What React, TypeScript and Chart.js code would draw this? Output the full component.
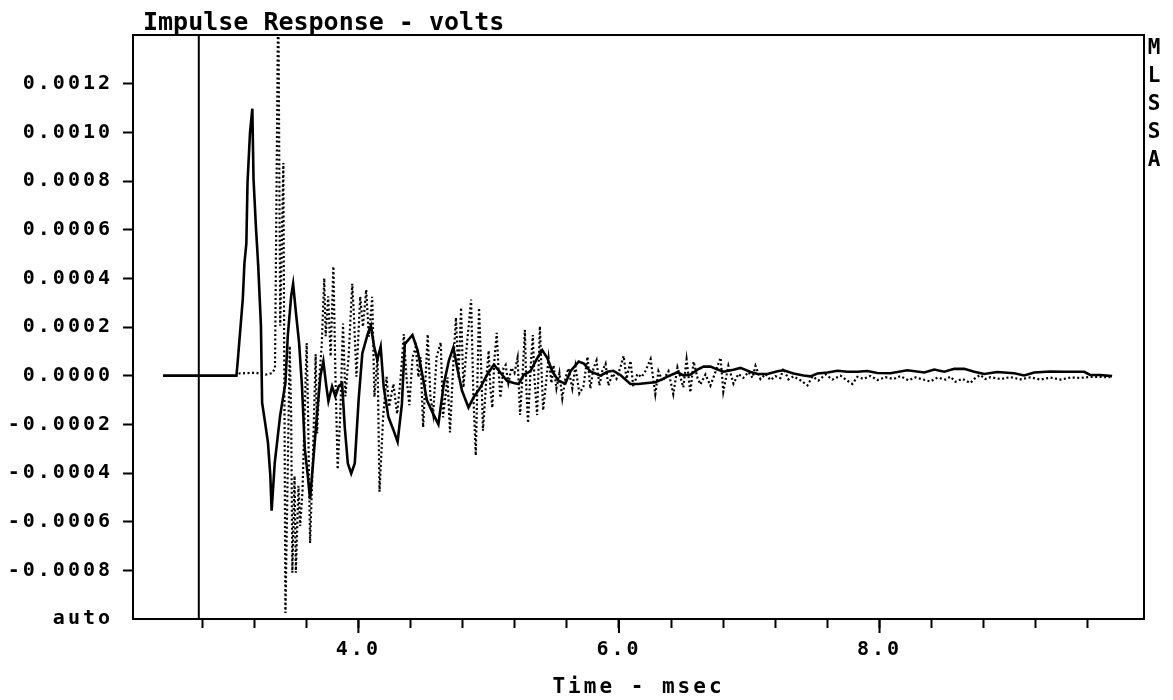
import React, { useEffect, useRef } from "react";
import { Chart, registerables } from "chart.js";

Chart.register(...registerables);

// ---------- text ----------
const chartTitle = "Impulse Response - volts";
const xAxisTitle = "Time - msec";
const sideLabel = "MLSSA";

// ---------- axes ----------
const xMin = 2.27;
const xMax = 10.03;
const yMin = -0.001;
const yMax = 0.0014;
const xTickValues = [2.8, 3.2, 3.6, 4.0, 4.4, 4.8, 5.2, 5.6, 6.0, 6.4, 6.8, 7.2, 7.6, 8.0, 8.4, 8.8, 9.2, 9.6];
const xLabeledTicks = [4.0, 6.0, 8.0];
const yTickValues = [-0.001, -0.0008, -0.0006, -0.0004, -0.0002, 0, 0.0002, 0.0004, 0.0006, 0.0008, 0.001, 0.0012];
const yAutoTick = -0.001; // shown as "auto"
const markerTime = 2.775; // vertical cursor line (msec)

// ---------- solid trace (msec / volts) ----------
const solidTime = [
  2.5, 3.064, 3.073, 3.113, 3.125, 3.14, 3.149, 3.168, 3.186, 3.195,
  3.213, 3.231, 3.252, 3.261, 3.284, 3.306, 3.324, 3.334, 3.358, 3.399,
  3.44, 3.458, 3.484, 3.499, 3.521, 3.545, 3.567, 3.589, 3.612, 3.629,
  3.652, 3.681, 3.709, 3.731, 3.754, 3.77, 3.798, 3.823, 3.849, 3.875,
  3.895, 3.919, 3.945, 3.972, 4.002, 4.03, 4.07, 4.096, 4.12, 4.145,
  4.171, 4.194, 4.23, 4.268, 4.301, 4.334, 4.356, 4.415, 4.454, 4.49,
  4.526, 4.576, 4.614, 4.655, 4.695, 4.729, 4.758, 4.795, 4.845, 4.883,
  4.936, 4.988, 5.04, 5.091, 5.141, 5.192, 5.23, 5.269, 5.321, 5.373,
  5.411, 5.45, 5.488, 5.538, 5.589, 5.628, 5.691, 5.73, 5.781, 5.858,
  5.911, 5.957, 6.011, 6.088, 6.149, 6.218, 6.28, 6.334, 6.38, 6.449,
  6.495, 6.549, 6.603, 6.649, 6.703, 6.757, 6.803, 6.879, 6.933, 7.01,
  7.064, 7.14, 7.217, 7.263, 7.34, 7.417, 7.47, 7.524, 7.601, 7.678,
  7.754, 7.831, 7.906, 7.983, 8.083, 8.213, 8.344, 8.42, 8.497, 8.574,
  8.65, 8.727, 8.804, 8.903, 9.034, 9.11, 9.187, 9.31, 9.417, 9.571,
  9.617, 9.693, 9.785,
];
const solidVolts = [
  0, 0, 0.000054, 0.000317, 0.00046, 0.000543, 0.000793, 0.000998, 0.001097, 0.000809,
  0.000616, 0.000452, 0.000205, -0.000111, -0.000193, -0.000276, -0.000411, -0.000555, -0.000358, -0.000165,
  -0.00003, 0.000163, 0.000327, 0.000377, 0.000257, 0.000134, -0.000043, -0.000302, -0.000413, -0.000507,
  -0.000359, -0.000167, 0, 0.000059, -0.000044, -0.000105, -0.000044, -0.000085, -0.000044, -0.000032,
  -0.000209, -0.000361, -0.000402, -0.000361, -0.000098, 0.000091, 0.000169, 0.000205, 0.000122, 0.000065,
  0.000119, -0.000046, -0.000169, -0.000222, -0.000272, -0.000116, 0.00013, 0.000167, 0.000105, 0.000006,
  -0.000101, -0.000159, -0.0002, -0.000036, 0.000063, 0.000116, 0.000034, -0.000061, -0.000131, -0.00009,
  -0.000049, 0.000004, 0.000045, 0.000012, -0.000021, -0.00003, -0.000034, 0.000003, 0.000019, 0.000072,
  0.000105, 0.000072, 0.000018, -0.000023, -0.000032, 0.000018, 0.000058, 0.00005, 0.000017, 0,
  0.000016, 0.00002, 0.000003, -0.000034, -0.000034, -0.00003, -0.000027, -0.000014, -0.000002, 0.000014,
  0.000001, 0.000005, 0.000025, 0.000037, 0.000037, 0.000025, 0.000016, 0.000024, 0.000032, 0.000015,
  0.000007, 0.000007, 0.000018, 0.000022, 0.000009, 0.000001, -0.000003, 0.000009, 0.000013, 0.00002,
  0.000016, 0.000016, 0.000019, 0.000011, 0.00001, 0.000022, 0.000013, 0.000025, 0.000016, 0.000028,
  0.000028, 0.000016, 0.000007, 0.000015, 0.00001, 0.000001, 0.000013, 0.000017, 0.000016, 0.000016,
  0.000003, 0.000003, -0.000002,
];

// ---------- dotted trace (msec / volts) ----------
const dottedTime = [
  3.08, 3.21, 3.287, 3.341, 3.36, 3.385, 3.4, 3.424, 3.44, 3.473,
  3.484, 3.493, 3.51, 3.52, 3.54, 3.553, 3.571, 3.603, 3.614, 3.629,
  3.649, 3.672, 3.683, 3.701, 3.718, 3.738, 3.749, 3.768, 3.787, 3.808,
  3.824, 3.841, 3.86, 3.882, 3.9, 3.925, 3.953, 3.966, 3.985, 4.014,
  4.035, 4.06, 4.08, 4.106, 4.123, 4.147, 4.162, 4.19, 4.216, 4.236,
  4.269, 4.297, 4.323, 4.349, 4.369, 4.391, 4.416, 4.44, 4.461, 4.477,
  4.497, 4.532, 4.553, 4.574, 4.6, 4.632, 4.65, 4.684, 4.703, 4.731,
  4.749, 4.768, 4.788, 4.806, 4.831, 4.865, 4.883, 4.901, 4.926, 4.945,
  4.956, 4.983, 5.0, 5.013, 5.028, 5.045, 5.062, 5.075, 5.09, 5.114,
  5.13, 5.151, 5.175, 5.198, 5.222, 5.241, 5.259, 5.278, 5.289, 5.302,
  5.322, 5.339, 5.351, 5.372, 5.393, 5.405, 5.418, 5.444, 5.46, 5.482,
  5.498, 5.52, 5.543, 5.565, 5.589, 5.612, 5.642, 5.666, 5.696, 5.727,
  5.759, 5.78, 5.804, 5.828, 5.85, 5.873, 5.897, 5.919, 5.95, 5.981,
  6.012, 6.036, 6.058, 6.089, 6.11, 6.142, 6.173, 6.203, 6.243, 6.279,
  6.303, 6.334, 6.38, 6.417, 6.449, 6.472, 6.494, 6.519, 6.548, 6.573,
  6.602, 6.625, 6.664, 6.702, 6.741, 6.78, 6.801, 6.84, 6.879, 6.917,
  6.955, 6.994, 7.025, 7.048, 7.086, 7.124, 7.163, 7.201, 7.239, 7.262,
  7.301, 7.339, 7.393, 7.447, 7.485, 7.531, 7.585, 7.639, 7.7, 7.754,
  7.792, 7.83, 7.876, 7.93, 7.984, 8.045, 8.107, 8.16, 8.222, 8.275,
  8.329, 8.391, 8.444, 8.506, 8.544, 8.582, 8.636, 8.697, 8.736, 8.774,
  8.812, 8.851, 8.928, 9.005, 9.081, 9.158, 9.235, 9.312, 9.388, 9.465,
  9.542, 9.618, 9.772,
];
const dottedVolts = [
  0.000009, 0.000012, 0.000004, 0.000011, 0.000032, 0.0016, 0.000205, 0.000874, -0.000975, 0.000122,
  -0.000166, -0.00081, -0.000412, -0.00081, -0.000453, -0.000618, -0.000474, 0.000134, -0.000166, -0.000688,
  -0.000372, 0.000088, -0.000237, -0.000002, 0.000121, 0.0004, 0.000162, 0.000326, 0.000079, 0.000449,
  -0.000003, -0.000385, -0.000168, 0.000214, -0.000085, 0.000079, 0.000378, 0.000243, -0.000004, 0.000325,
  0.000201, 0.000353, 0.00016, 0.000324, -0.000087, 0.000078, -0.000477, -0.000169, -0.000005, -0.000128,
  -0.000034, -0.000157, -0.000018, 0.000171, -0.000005, -0.000121, 0.000076, 0.000117, -0.000006, 0.000076,
  -0.000212, 0.00017, -0.000088, -0.000158, 0.000076, 0.000137, -0.000171, -0.000007, -0.000233, 0.000075,
  0.000239, -0.000007, 0.00028, -0.000049, 0.000116, 0.000313, -0.00009, -0.000328, 0.000279, -0.000008,
  -0.000226, -0.000008, 0.000103, -0.00005, -0.000132, 0.000074, 0.000176, 0.000032, -0.000091, 0.000032,
  0.000044, -0.00003, 0.000032, 0.000011, 0.000073, -0.000161, -0.000009, 0.000188, -0.000051, -0.000195,
  0.000031, 0.000167, -0.00001, -0.000162, 0.000203, 0.000031, -0.000142, -0.00001, 0.000072, -0.000031,
  0.000043, -0.000052, 0.00001, -0.000093, -0.000011, 0.00003, -0.000052, 0.000038, -0.000073, -0.000045,
  0.000078, -0.000053, 0.000029, 0.000062, -0.000041, 0.000021, 0.000049, -0.000041, 0.000008, -0.000013,
  0.000036, 0.000081, -0.000013, 0.000061, -0.000046, 0.000007, -0.000006, 0.000019, 0.000068, -0.000076,
  0.000018, -0.000023, 0.000018, -0.000076, 0.000034, -0.000007, -0.000048, 0.000067, -0.000069, 0.000058,
  -0.000007, -0.000036, 0.000005, -0.000041, 0.000016, 0.000074, -0.000066, 0.000041, -0.000033, 0.000007,
  -0.000009, 0.000015, -0.000009, 0.00004, -0.000014, 0.000007, -0.000018, -0.000002, -0.00001, 0.00003,
  -0.000015, -0.000003, -0.000019, -0.00004, -0.000003, -0.00002, 0.000005, -0.000016, 0, -0.000021,
  -0.000034, -0.000005, -0.000013, -0.000001, -0.000018, -0.000006, -0.000014, -0.000002, -0.000019, -0.000007,
  -0.000015, -0.000024, -0.000008, -0.000016, -0.000004, -0.000025, -0.000013, -0.00003, -0.000009, 0.000003,
  -0.000014, -0.000006, -0.000014, -0.000006, -0.000015, -0.000007, -0.000016, -0.000008, -0.000016, -0.000008,
  -0.000009, -0.000005, -0.000006,
];

const FONT = "'DejaVu Sans Mono', 'Liberation Mono', monospace";
const INK = "#000000";

const decorPlugin = {
  id: "mlssaDecor",
  beforeDraw(chart: any) {
    // wide, blocky tick labels like the original bitmap font
    (chart.ctx as any).letterSpacing = "3px";
  },
  afterDraw(chart: any) {
    const { ctx, chartArea: a, scales } = chart;
    ctx.save();
    (ctx as any).letterSpacing = "0px";
    // plot frame
    ctx.strokeStyle = INK;
    ctx.lineWidth = 2;
    ctx.strokeRect(a.left, a.top, a.right - a.left, a.bottom - a.top);
    // longer major tick marks on the time axis
    const xs = scales.x;
    ctx.beginPath();
    xLabeledTicks.forEach((v) => {
      const px = xs.getPixelForValue(v);
      ctx.moveTo(px, a.bottom);
      ctx.lineTo(px, a.bottom + 14);
    });
    ctx.stroke();
    // title
    ctx.fillStyle = INK;
    ctx.font = `bold 25px ${FONT}`;
    ctx.textAlign = "left";
    ctx.textBaseline = "alphabetic";
    ctx.fillText(chartTitle, a.left + 10, a.top - 5);
    // vertical side label
    ctx.font = `bold 21px ${FONT}`;
    ctx.textAlign = "center";
    ctx.textBaseline = "middle";
    sideLabel.split("").forEach((ch, i) => {
      ctx.fillText(ch, a.right + 10, a.top + 14 + i * 28);
    });
    ctx.restore();
    (ctx as any).letterSpacing = "0px";
  },
};

export default function App() {
  const canvasRef = useRef<HTMLCanvasElement | null>(null);

  useEffect(() => {
    const canvas = canvasRef.current;
    if (!canvas) return;
    const solidData = solidTime.map((t, i) => ({ x: t, y: solidVolts[i] }));
    const dottedData = dottedTime.map((t, i) => ({ x: t, y: dottedVolts[i] }));
    const markerData = [
      { x: markerTime, y: yMin },
      { x: markerTime, y: yMax },
    ];

    const chart = new Chart(canvas, {
      type: "line",
      data: {
        datasets: [
          {
            label: "solid",
            data: solidData,
            borderColor: INK,
            borderWidth: 2.6,
            pointRadius: 0,
            tension: 0,
          },
          {
            label: "dotted",
            data: dottedData,
            borderColor: INK,
            borderWidth: 2.2,
            borderDash: [2, 2.5],
            pointRadius: 0,
            tension: 0,
          },
          {
            label: "cursor",
            data: markerData,
            borderColor: INK,
            borderWidth: 2,
            pointRadius: 0,
          },
        ],
      },
      options: {
        animation: false,
        responsive: false,
        events: [],
        layout: { padding: { top: 35, right: 29, bottom: 0, left: 0 } },
        plugins: {
          legend: { display: false },
          tooltip: { enabled: false },
          title: { display: false },
        },
        scales: {
          x: {
            type: "linear",
            min: xMin,
            max: xMax,
            afterBuildTicks: (s: any) => {
              s.ticks = xTickValues.map((v) => ({ value: v }));
            },
            afterFit: (s: any) => {
              s.height = 81;
            },
            border: { display: true, color: INK, width: 2 },
            grid: {
              drawOnChartArea: false,
              drawTicks: true,
              tickLength: 9,
              tickWidth: 2,
              tickColor: INK,
            },
            ticks: {
              autoSkip: false,
              maxRotation: 0,
              padding: 10,
              color: INK,
              font: { family: FONT, size: 20, weight: "bold" },
              callback: (v: any) => (xLabeledTicks.includes(Number(v)) ? Number(v).toFixed(1) : ""),
            },
            title: {
              display: true,
              text: xAxisTitle,
              color: INK,
              font: { family: FONT, size: 21, weight: "bold", lineHeight: 1 },
              padding: { top: 0, bottom: 2 },
            },
          },
          y: {
            type: "linear",
            min: yMin,
            max: yMax,
            afterBuildTicks: (s: any) => {
              s.ticks = yTickValues.map((v) => ({ value: v }));
            },
            afterFit: (s: any) => {
              s.width = 133;
            },
            border: { display: true, color: INK, width: 2 },
            grid: {
              drawOnChartArea: false,
              drawTicks: true,
              tickLength: 10,
              tickWidth: 2,
              tickColor: (c: any) => (c.tick && c.tick.value === yAutoTick ? "rgba(0,0,0,0)" : INK),
            },
            ticks: {
              autoSkip: false,
              padding: 10,
              color: INK,
              font: { family: FONT, size: 20, weight: "bold" },
              callback: (v: any) => (Number(v) === yAutoTick ? "auto" : Number(v).toFixed(4)),
            },
          },
        },
      },
      plugins: [decorPlugin],
    });

    return () => {
      chart.destroy();
    };
  }, []);

  return (
    <div style={{ position: "absolute", left: 0, top: 0, width: 1173, height: 700, background: "#fff" }}>
      <canvas ref={canvasRef} width={1173} height={700} style={{ width: 1173, height: 700, display: "block" }} />
    </div>
  );
}
